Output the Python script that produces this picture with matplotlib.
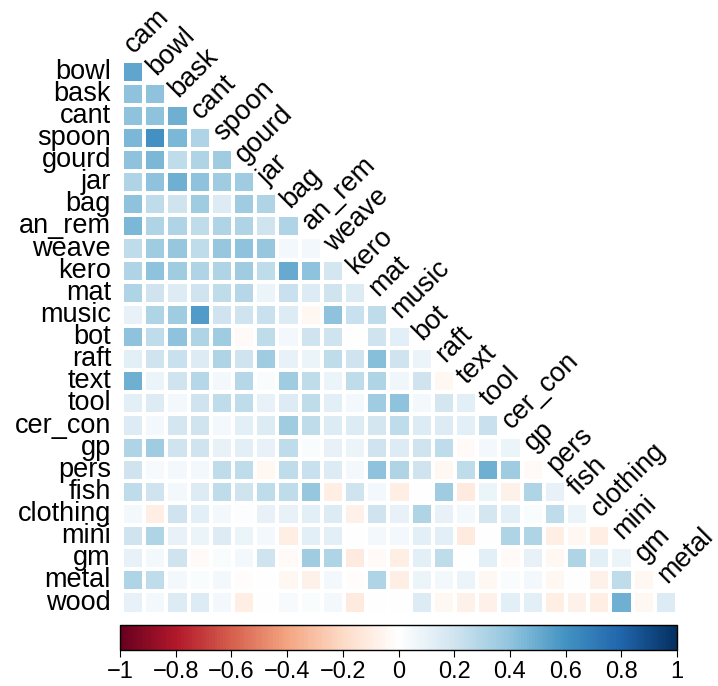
import numpy as np
import matplotlib
matplotlib.use("Agg")
import matplotlib.pyplot as plt
from matplotlib.colors import LinearSegmentedColormap
from matplotlib import transforms

# Variable order (rows start at "bowl", columns end at "metal")
variables = ["cam", "bowl", "bask", "cant", "spoon", "gourd", "jar", "bag",
             "an_rem", "weave", "kero", "mat", "music", "bot", "raft", "text",
             "tool", "cer_con", "gp", "pers", "fish", "clothing", "mini", "gm",
             "metal", "wood"]

# Lower-triangle correlations, one list per row variable (against earlier variables)
r_bowl = [0.52]
r_bask = [0.40, 0.40]
r_cant = [0.40, 0.40, 0.48]
r_spoon = [0.45, 0.60, 0.45, 0.30]
r_gourd = [0.40, 0.45, 0.25, 0.30, 0.35]
r_jar = [0.30, 0.40, 0.48, 0.40, 0.35, 0.35]
r_bag = [0.40, 0.25, 0.20, 0.35, 0.15, 0.35, 0.30]
r_an_rem = [0.45, 0.30, 0.30, 0.25, 0.30, 0.30, 0.20, 0.30]
r_weave = [0.25, 0.35, 0.38, 0.25, 0.38, 0.40, 0.38, 0.05, 0.05]
r_kero = [0.30, 0.40, 0.35, 0.30, 0.30, 0.35, 0.25, 0.50, 0.40, 0.18]
r_mat = [0.30, 0.20, 0.15, 0.20, 0.25, 0.28, 0.08, 0.22, 0.15, 0.20, 0.15]
r_music = [0.10, 0.30, 0.35, 0.56, 0.20, 0.20, 0.22, 0.15, -0.05, 0.40, 0.22, 0.25]
r_bot = [0.40, 0.25, 0.40, 0.30, 0.35, -0.03, 0.25, 0.05, 0.20, 0.20, 0.00, 0.20, 0.12]
r_raft = [0.12, 0.20, 0.22, 0.15, 0.30, 0.20, 0.35, 0.10, 0.08, 0.25, 0.20, 0.42,
          0.20, 0.08]
r_text = [0.48, 0.08, 0.20, 0.28, 0.05, 0.28, 0.02, 0.35, 0.25, 0.08, 0.25, 0.30,
          0.06, 0.20, -0.05]
r_tool = [0.12, 0.15, 0.05, 0.20, 0.25, 0.25, 0.10, 0.15, 0.25, 0.12, 0.05, 0.35,
          0.40, 0.05, 0.18, 0.12]
r_cer_con = [0.15, 0.05, 0.18, 0.20, 0.05, 0.12, 0.15, 0.35, 0.25, 0.15, 0.15, 0.18,
             0.25, 0.15, 0.15, 0.12, 0.22]
r_gp = [0.30, 0.35, 0.20, 0.20, 0.10, 0.12, 0.10, 0.25, 0.02, 0.10, 0.08, 0.20,
        0.15, 0.20, 0.25, -0.03, 0.05, 0.08]
r_pers = [0.20, 0.03, 0.05, 0.05, 0.25, 0.25, -0.05, 0.25, 0.22, 0.15, 0.05, 0.40,
          0.30, 0.20, -0.05, 0.25, 0.48, 0.35, -0.03]
r_fish = [0.25, 0.20, 0.05, 0.15, 0.25, 0.20, 0.25, 0.25, 0.38, -0.10, 0.20, 0.05,
          -0.10, 0.00, 0.35, -0.12, 0.08, -0.08, 0.30, 0.10]
r_clothing = [0.05, -0.10, 0.20, 0.12, 0.05, 0.01, 0.10, 0.10, 0.12, 0.15, -0.08,
              0.20, 0.10, 0.30, 0.10, 0.05, 0.18, 0.12, 0.02, 0.25, 0.08]
r_mini = [0.20, 0.30, 0.10, 0.08, 0.15, 0.08, 0.05, -0.10, 0.12, 0.12, 0.00, 0.05,
          0.05, 0.12, 0.12, -0.12, 0.00, 0.30, 0.30, -0.10, -0.05, -0.10]
r_gm = [0.10, 0.05, 0.20, -0.03, 0.02, 0.05, 0.20, -0.03, 0.35, 0.30, -0.12, -0.03,
        -0.10, 0.12, 0.25, 0.00, 0.12, -0.03, 0.10, -0.05, 0.30, 0.12, 0.08]
r_metal = [0.30, 0.25, 0.05, 0.02, 0.05, -0.02, 0.00, -0.05, -0.08, 0.05, -0.02,
           0.30, -0.10, 0.08, 0.05, 0.08, -0.05, 0.02, 0.05, -0.05, 0.00, -0.08,
           0.25, -0.05]
r_wood = [0.10, 0.05, 0.15, 0.15, 0.05, -0.10, 0.00, 0.03, 0.02, 0.05, -0.12, 0.00,
          0.00, 0.15, -0.05, -0.08, -0.08, 0.12, 0.12, -0.10, -0.08, -0.10, 0.48,
          -0.05, 0.15]

rows = [r_bowl, r_bask, r_cant, r_spoon, r_gourd, r_jar, r_bag, r_an_rem, r_weave,
        r_kero, r_mat, r_music, r_bot, r_raft, r_text, r_tool, r_cer_con, r_gp,
        r_pers, r_fish, r_clothing, r_mini, r_gm, r_metal, r_wood]

colorbar_ticks = [-1, -0.8, -0.6, -0.4, -0.2, 0, 0.2, 0.4, 0.6, 0.8, 1]

row_labels = variables[1:]
col_labels = variables[:-1]
n = len(rows)

# Assemble the masked matrix (upper triangle hidden)
mat = np.full((n, n), np.nan)
for i, vals in enumerate(rows):
    mat[i, :len(vals)] = vals
mat = np.ma.masked_invalid(mat)

cmap = LinearSegmentedColormap.from_list(
    "rdbu_white",
    ["#67001F", "#B2182B", "#D6604D", "#F4A582", "#FDDBC7", "#FFFFFF",
     "#D1E5F0", "#92C5DE", "#4393C3", "#2166AC", "#053061"], N=200)

plt.rcParams["font.family"] = ["Liberation Sans", "DejaVu Sans"]

W, H = 718, 686
fig = plt.figure(figsize=(W / 100, H / 100), dpi=100)

gx0, gx1, gy0, gy1 = 122, 677, 60.5, 613.6
ax = fig.add_axes([gx0 / W, 1 - gy1 / H, (gx1 - gx0) / W, (gy1 - gy0) / H])
xe = np.arange(n + 1) - 0.5
ye = np.arange(n + 1) - 0.5
mesh = ax.pcolormesh(xe, ye, mat, cmap=cmap, vmin=-1, vmax=1,
                     edgecolors="white", linewidth=1.5)
ax.set_xlim(-0.5, n - 0.5)
ax.set_ylim(n - 0.5, -0.5)
ax.axis("off")

label_size = 19.5
row_tr = transforms.offset_copy(ax.transData, fig=fig, x=-11, y=0, units="dots")
for i, lab in enumerate(row_labels):
    ax.text(-0.5, i, lab, transform=row_tr, ha="right", va="center",
            fontsize=label_size, color="black")

col_tr = transforms.offset_copy(ax.transData, fig=fig, x=1, y=7, units="dots")
for j, lab in enumerate(col_labels):
    ax.text(j, j - 0.5, lab, transform=col_tr, ha="left", va="baseline",
            rotation=45, rotation_mode="anchor", fontsize=label_size,
            color="black")

# Horizontal colour key
cx0, cx1, cy0, cy1 = 120, 677, 625, 650
cax = fig.add_axes([cx0 / W, 1 - cy1 / H, (cx1 - cx0) / W, (cy1 - cy0) / H])
cb = fig.colorbar(mesh, cax=cax, orientation="horizontal", ticks=colorbar_ticks)
cb.outline.set_linewidth(1.0)
cb.outline.set_edgecolor("black")
cb.ax.set_xticklabels([("\u2212" if t < 0 else "") + f"{abs(t):g}"
                       for t in colorbar_ticks])
cb.ax.tick_params(axis="x", length=5, width=0.8, direction="out",
                  labelsize=17, pad=3)

fig.savefig("out.png", dpi=100)
